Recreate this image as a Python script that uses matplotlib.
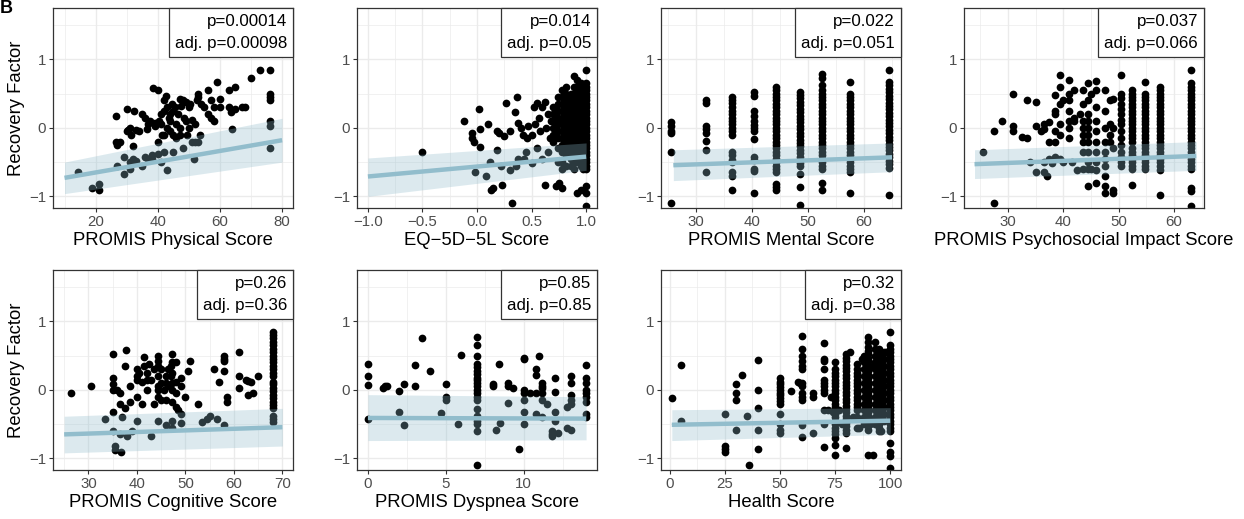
import numpy as np
import matplotlib
matplotlib.use("Agg")
from matplotlib import pyplot as plt

plt.rcParams['font.family'] = ['Liberation Sans', 'DejaVu Sans']

# ---- PROMIS Physical ----
phys_x = [14.5, 19, 21, 21, 26.5, 26.5, 27, 27, 28, 29, 29, 30, 30, 30.5, 31, 31, 31, 31.5, 32, 32,
          32.5, 33, 33, 34, 35, 35, 36, 36, 36.5, 37, 37, 37.5, 38, 38, 38.5, 39, 39, 40, 40, 40,
          40.5, 41, 41, 41, 41.5, 42, 42, 42, 42, 42.5, 43, 43, 43, 43.5, 44, 44, 44, 44.5, 45, 45,
          45, 45.5, 46, 46, 46.5, 47, 47, 47, 47.5, 48, 48, 48.5, 49, 49, 49.5, 50, 50, 50.5, 51, 51,
          51.5, 52, 52, 52.5, 53, 53, 53, 53.5, 54, 55, 56, 56, 57, 57, 58, 58, 59, 60, 60, 63,
          63, 63.5, 64, 65, 65, 67, 68, 70, 73, 76, 76, 76, 76, 76, 76, 76]
phys_y = [-0.64, -0.88, -0.82, -0.9, 0.17, -0.2, -0.25, -0.55, -0.2, -0.42, -0.68, 0.27, -0.05, -0.03, 0.0, -0.5, -0.6, -0.1, -0.27, -0.45,
          0.25, -0.03, -0.48, -0.05, 0.2, -0.55, 0.15, -0.42, -0.02, 0.05, -0.45, 0.1, -0.4, -0.45, 0.58, 0.07, 0.02, 0.55, -0.2, -0.38,
          0.1, 0.2, 0.05, -0.5, -0.1, 0.4, 0.25, -0.1, -0.35, 0.47, 0.0, 0.3, -0.62, 0.15, 0.2, 0.1, -0.05, 0.35, 0.25, -0.1,
          -0.35, 0.3, 0.05, -0.15, 0.2, 0.42, 0.0, -0.1, 0.32, 0.4, -0.3, 0.15, 0.38, 0.1, -0.1, 0.3, 0.0, 0.35, 0.12, -0.2,
          -0.45, 0.05, -0.2, 0.4, 0.5, 0.45, -0.2, -0.1, 0.35, 0.3, 0.55, 0.2, 0.15, 0.4, 0.1, 0.3, 0.67, 0.42, 0.3, 0.56,
          0.3, 0.23, -0.01, 0.6, 0.27, 0.3, 0.3, 0.73, 0.84, 0.84, 0.5, 0.45, 0.4, 0.1, 0.02, -0.29]
phys_band_x = [10, 80]
phys_fit = [-0.73, -0.18]
phys_lo = [-0.96, -0.50]
phys_hi = [-0.50, 0.14]

# ---- EQ-5D-5L ----
eq_x = [-0.5, -0.12, -0.05, -0.05, -0.03, -0.02, 0.02, 0.03, 0.03, 0.08, 0.1, 0.12, 0.13, 0.15, 0.18, 0.18,
        0.2, 0.22, 0.23, 0.25, 0.27, 0.3, 0.3, 0.32, 0.35, 0.36, 0.37, 0.38, 0.38, 0.4, 0.42, 0.43, 0.45,
        0.46, 0.47, 0.5, 0.5, 0.52, 0.53, 0.55, 0.55, 0.57, 0.58, 0.6, 0.6, 0.62, 0.62, 0.63, 0.65, 0.65,
        0.67, 0.68, 0.72, 0.75]
eq_y = [-0.35, 0.1, -0.08, -0.15, -0.2, -0.65, 0.27, -0.02, -0.28, -0.7, 0.05, -0.5, -0.9, -0.88, -0.05, -0.32,
        -0.08, -0.55, -0.83, -0.12, 0.37, -0.05, -0.62, -1.1, 0.23, -0.55, 0.45, 0.07, -0.45, 0.0, -0.1, -0.45, -0.35,
        -0.15, 0.03, -0.1, -0.52, 0.3, 0.05, 0.37, -0.3, 0.15, -0.05, 0.3, -0.45, 0.38, -0.83, 0.0, 0.2, -0.35,
        -0.15, 0.1, -0.85, -0.8]
eq_levels = [0.70, 0.74, 0.78, 0.82, 0.86, 0.89, 0.92, 0.95, 0.97, 1.0]
eq_values = [
    [0.3, 0.2, 0.1, 0.0, -0.1, -0.2],
    [0.45, 0.35, 0.25, 0.15, 0.05, -0.05, -0.15, -0.3, -0.5],
    [0.55, 0.45, 0.35, 0.25, 0.15, 0.05, -0.05, -0.15, -0.25, -0.35, -0.5, -0.6, -0.88],
    [0.6, 0.5, 0.4, 0.3, 0.2, 0.1, 0.0, -0.1, -0.2, -0.3, -0.4, -0.55],
    [0.5, 0.45, 0.35, 0.25, 0.15, 0.05, -0.05, -0.15, -0.25, -0.35, -0.45, -0.55],
    [0.75, 0.6, 0.5, 0.4, 0.3, 0.2, 0.1, 0.0, -0.1, -0.2, -0.3, -0.4, -0.5, -0.6],
    [0.7, 0.6, 0.5, 0.4, 0.3, 0.2, 0.1, 0.0, -0.1, -0.2, -0.3, -0.4, -0.5, -0.95],
    [0.65, 0.55, 0.45, 0.35, 0.25, 0.15, 0.05, -0.05, -0.15, -0.25, -0.35, -0.45, -0.55, -0.9],
    [0.6, 0.5, 0.4, 0.3, 0.2, 0.1, 0.0, -0.1, -0.2, -0.3, -0.4, -0.5, -0.6],
    [0.85, 0.65, 0.6, 0.55, 0.5, 0.45, 0.4, 0.35, 0.3, 0.25, 0.2, 0.15, 0.1, 0.05, 0.0, -0.05, -0.1,
     -0.15, -0.2, -0.25, -0.3, -0.35, -0.4, -0.45, -0.5, -0.55, -0.6, -0.85, -0.95, -1.14],
]
eq_band_x = [-1.0, 1.0]
eq_fit = [-0.71, -0.42]
eq_lo = [-1.0, -0.62]
eq_hi = [-0.44, -0.22]

# ---- PROMIS Mental ----
mental_levels = [25.6, 31.8, 36.4, 40.4, 44.3, 48.5, 52.6, 57.5, 64.5]
mental_values = [
    [0.08, 0.02, -0.04, -0.08, -0.35, -1.1],
    [0.4, 0.36, 0.03, -0.02, -0.07, -0.19, -0.33, -0.64],
    [0.45, 0.41, 0.36, 0.3, 0.24, 0.2, 0.14, 0.1, 0.05, 0.0, -0.05, -0.1, -0.35, -0.4, -0.47, -0.5,
     -0.65, -0.7, -0.91],
    [0.52, 0.47, 0.25, 0.17, 0.1, 0.04, 0.0, -0.04, -0.16, -0.42, -0.47, -0.6, -0.63, -0.95],
    [0.6, 0.55, 0.5, 0.45, 0.4, 0.35, 0.3, 0.25, 0.2, 0.15, 0.1, 0.05, 0.0, -0.05, -0.1, -0.15, -0.2,
     -0.25, -0.3, -0.35, -0.4, -0.45, -0.5, -0.55, -0.6, -0.65, -0.82, -0.86, -0.9],
    [0.53, 0.48, 0.43, 0.38, 0.33, 0.28, 0.23, 0.18, 0.13, 0.08, 0.03, -0.02, -0.07, -0.12, -0.17,
     -0.22, -0.27, -0.32, -0.37, -0.42, -0.47, -0.52, -0.56, -0.68, -0.87, -1.13],
    [0.78, 0.73, 0.62, 0.55, 0.5, 0.45, 0.4, 0.35, 0.3, 0.25, 0.2, 0.15, 0.1, 0.05, 0.0, -0.05, -0.1,
     -0.15, -0.2, -0.25, -0.3, -0.35, -0.4, -0.45, -0.5, -0.55, -0.6, -0.8, -0.9],
    [0.67, 0.5, 0.45, 0.4, 0.35, 0.3, 0.25, 0.2, 0.15, 0.1, 0.05, 0.0, -0.05, -0.1, -0.15, -0.2, -0.25,
     -0.3, -0.35, -0.4, -0.45, -0.5, -0.55, -0.6, -0.65, -0.95],
    [0.85, 0.67, 0.62, 0.57, 0.52, 0.47, 0.42, 0.37, 0.32, 0.27, 0.22, 0.17, 0.12, 0.07, 0.02, -0.03,
     -0.08, -0.13, -0.18, -0.23, -0.28, -0.33, -0.38, -0.43, -0.48, -0.53, -0.58, -0.98],
]
mental_band_x = [26, 65]
mental_fit = [-0.545, -0.43]
mental_lo = [-0.77, -0.64]
mental_hi = [-0.32, -0.22]

# ---- PROMIS Psychosocial Impact ----
psy_x = [25.5, 27.5, 27.5, 29, 31, 31, 31, 32.5, 33.5, 33.5, 34, 35, 35, 35, 36, 36.5, 36.5, 36.5, 36.5,
         37, 37.5, 37.5, 37.5, 38, 38.5, 38.5, 38.5, 38.5, 38.5, 38.5, 39.5, 39.5, 39.5, 39.5, 39.5, 39.5,
         40, 40, 41, 41, 41, 41, 41, 41, 41, 41.5, 42, 42, 42, 42.5, 43, 43.5, 43.5, 43.5, 43.5, 43.5, 43.5,
         43.5, 43.5, 44.5, 44.5, 44.5, 44.5, 44.5, 44.5, 44.5, 44.5, 44.5, 44.5, 44.5, 45, 45, 46, 46, 46,
         46, 46, 46, 46, 46, 46, 46, 47.5, 47.5, 47.5, 47.5, 47.5, 47.5, 47.5, 47.5, 47.5, 47.5, 48.5, 48.5,
         48.5, 48.5, 49, 49, 49, 49, 49]
psy_y = [-0.35, -0.05, -1.1, 0.1, 0.5, 0.03, -0.05, -0.13, 0.4, -0.15, -0.5, 0.38, 0.02, -0.65, -0.05, 0.05,
         -0.02, -0.5, -0.65, -0.7, 0.08, -0.2, -0.45, -0.52, 0.48, 0.25, 0.2, -0.05, -0.2, -0.42, 0.77, 0.6,
         0.35, 0.05, -0.1, -0.45, 0.4, -0.5, 0.7, 0.5, 0.4, 0.25, 0.1, 0.0, -0.15, -0.5, 0.55, 0.15, 0.1, -0.62,
         0.2, 0.55, 0.35, 0.1, 0.0, -0.1, -0.2, -0.35, -0.6, 0.65, 0.4, 0.2, 0.1, 0.0, -0.1, -0.2, -0.35, -0.5,
         -0.6, -0.85, 0.5, -0.6, 0.68, 0.55, 0.3, 0.1, -0.05, -0.2, -0.35, -0.5, -0.62, -0.8, 0.55, 0.25, 0.0,
         -0.2, -0.35, -0.45, -0.55, -0.7, -0.85, -0.95, 0.4, 0.05, -0.1, -0.2, 0.42, 0.0, -0.3, -0.9, -0.95]
psy_levels = [50.5, 52.5, 54.8, 57.5, 63.0]
psy_values = [
    [0.77, 0.5, 0.43, 0.35, 0.28, 0.2, 0.12, 0.05, -0.05, -0.15, -0.25, -0.35, -0.42, -0.5, -0.55],
    [0.55, 0.5, 0.45, 0.4, 0.35, 0.3, 0.25, 0.2, 0.15, 0.1, 0.05, 0.0, -0.05, -0.1, -0.15, -0.2, -0.3,
     -0.35, -0.4, -0.45, -0.5, -0.55, -0.6, -0.83],
    [0.67, 0.5, 0.45, 0.4, 0.35, 0.3, 0.25, 0.2, 0.15, 0.1, 0.05, 0.0, -0.05, -0.1, -0.15, -0.2, -0.25,
     -0.3, -0.35, -0.4, -0.45, -0.5, -0.55, -0.6],
    [0.6, 0.55, 0.5, 0.45, 0.4, 0.35, 0.3, 0.25, 0.2, 0.15, 0.1, 0.05, 0.0, -0.05, -0.1, -0.15, -0.2,
     -0.25, -0.3, -0.35, -0.4, -0.45, -0.5, -0.55, -0.62, -0.98],
    [0.85, 0.65, 0.6, 0.55, 0.5, 0.45, 0.4, 0.35, 0.3, 0.25, 0.2, 0.15, 0.1, 0.05, 0.0, -0.05, -0.1,
     -0.15, -0.2, -0.25, -0.3, -0.35, -0.4, -0.45, -0.5, -0.55, -0.6, -0.88, -0.92, -1.14],
]
psy_band_x = [24, 64]
psy_fit = [-0.53, -0.41]
psy_lo = [-0.74, -0.62]
psy_hi = [-0.32, -0.20]

# ---- PROMIS Cognitive ----
cog_x = [26.5, 30.5, 33.5, 35, 35, 35, 35, 35, 35, 35.5, 35.5, 36, 36.5, 36.5, 36.5, 36.8, 37, 37.5, 37.5,
         37.8, 38, 38.5, 38.5, 39, 40, 40, 40, 40, 40, 40.5, 41, 41, 41.5, 41.5, 42, 42, 42, 42.5, 43, 43,
         43.5, 43.5, 44.3, 44.3, 44.3, 44.3, 44.3, 44.3, 44.3, 44.3, 45, 45, 45, 45.5, 46, 46, 46, 46, 46.5,
         46.5, 47, 47, 47.3, 47.3, 47.3, 47.3, 47.3, 47.3, 47.3, 47.3, 48, 48, 48, 48, 48.5, 49, 49, 49, 49,
         50, 50.5, 51, 52.7, 53.5, 54.5, 55, 56, 56.5, 57, 58, 58, 58, 58, 58, 58.5, 58.5, 61, 61, 61, 62.5,
         63, 63, 63.5, 64, 65]
cog_y = [-0.05, 0.05, -0.42, 0.53, 0.17, 0.08, 0.0, -0.33, -0.6, -0.82, -0.88, 0.0, -0.05, -0.2, -0.65, -0.9,
         -0.4, 0.35, -0.27, 0.58, -0.68, 0.05, -0.18, -0.6, 0.3, 0.2, 0.15, -0.1, -0.45, 0.25, 0.12, -0.2, 0.48,
         0.35, 0.25, 0.15, 0.0, 0.38, 0.15, -0.68, 0.3, -0.2, 0.5, 0.42, 0.35, 0.2, 0.05, 0.0, -0.1, -0.45, 0.3,
         0.1, -0.15, 0.0, 0.2, 0.1, -0.15, -0.52, 0.3, 0.05, 0.35, 0.2, 0.53, 0.4, 0.25, 0.1, 0.0, -0.18, -0.45,
         -0.55, 0.4, 0.12, -0.05, -0.25, -0.3, 0.18, 0.05, -0.35, -0.48, -0.1, 0.27, 0.42, -0.2, -0.47, -0.42,
         -0.38, 0.3, -0.42, 0.12, 0.5, 0.45, 0.42, 0.28, -0.52, -0.1, -0.18, 0.56, 0.2, 0.03, 0.15, 0.13, -0.07,
         0.12, -0.05, 0.2]
cog_levels = [68.0]
cog_values = [
    [0.85, 0.8, 0.75, 0.7, 0.65, 0.6, 0.55, 0.5, 0.45, 0.4, 0.35, 0.3, 0.25, 0.2, 0.12, 0.08, 0.03, -0.02,
     -0.07, -0.12, -0.17, -0.22, -0.27, -0.38, -0.42, -0.47],
]
cog_band_x = [25, 70]
cog_fit = [-0.65, -0.545]
cog_lo = [-0.92, -0.82]
cog_hi = [-0.385, -0.27]

# ---- PROMIS Dyspnea ----
dys_x = [0, 0, 0, 0, 1, 1.1, 1.2, 2, 2, 2.3, 2.3, 3, 3, 3.5, 4, 4.7, 5, 5, 5, 5.8, 6,
         8, 8, 8.2, 8.4, 8.5, 9, 9, 9, 9.3, 9.7, 10, 10, 10, 10, 10, 10, 10, 10.4, 10.8, 10.8, 10.8,
         10.8, 11, 11.2, 11.2, 11.2, 11.2, 11.2, 11.2, 11.5, 12, 12, 12, 12, 11.8, 11.8, 11.8, 12.2,
         12.8, 12.8, 13, 13, 13, 13, 13, 13, 14, 14, 14, 14, 14, 14, 14, 14, 14]
dys_y = [0.38, 0.2, 0.07, -0.43, 0.03, 0.05, 0.06, -0.01, -0.33, 0.09, -0.52, 0.37, 0.05, 0.76, 0.27, -0.34,
         0.09, -0.1, -0.15, -0.5, 0.51, 0.08, 0.05, -0.58, 0.38, -0.48, 0.1, 0.06, -0.19, 0.02, -0.86, 0.47,
         0.45, 0.0, -0.05, -0.15, -0.33, -0.5, -0.05, 0.3, 0.22, -0.04, -0.35, 0.5, 0.1, 0.06, 0.02, -0.05,
         -0.15, -0.4, -0.2, 0.18, -0.03, -0.33, -0.45, -0.6, -0.65, -0.68, -0.63, -0.25, -0.55, 0.2, 0.1,
         -0.08, -0.15, -0.2, -0.58, 0.36, 0.17, 0.1, 0.0, -0.05, -0.1, -0.18, -0.35, -0.4]
dys_levels = [7.0]
dys_values = [
    [0.77, 0.65, 0.5, 0.38, 0.33, 0.28, 0.23, 0.18, 0.14, 0.1, 0.05, 0.0, -0.05, -0.1, -0.15, -0.28,
     -0.38, -0.45, -0.5, -0.6, -1.1],
]
dys_band_x = [0, 14]
dys_fit = [-0.41, -0.42]
dys_lo = [-0.74, -0.73]
dys_hi = [-0.07, -0.10]

# ---- Health Score ----
health_x = [1, 5, 5, 25, 25, 25, 25, 30, 30, 30, 30, 33, 35, 36, 40, 40, 40, 40, 40, 55, 58, 59, 65, 65,
            65, 72, 73, 74, 77, 78, 82, 83, 86, 87, 91, 92, 92, 96, 98]
health_y = [-0.12, 0.36, -0.45, -0.35, -0.82, -0.87, -0.9, 0.08, -0.05, -0.15, -0.58, 0.21, -0.38, -1.09,
            0.44, 0.0, -0.27, -0.58, -0.87, -0.01, 0.12, 0.1, -0.05, -0.1, -0.63, -0.3, -0.1, -0.33, -0.3,
            -0.5, 0.55, -0.4, -0.55, 0.45, -0.5, 0.35, -0.95, -0.6, 0.55]
health_levels = [50, 60, 70, 75, 80, 85, 88, 90, 93, 95, 97, 100]
health_values = [
    [0.17, 0.12, 0.08, 0.04, 0.0, -0.04, -0.08, -0.12, -0.16, -0.2, -0.35, -0.5, -0.58, -0.63],
    [0.78, 0.6, 0.5, 0.42, 0.35, 0.3, 0.1, 0.05, -0.05, -0.1, -0.15, -0.52, -0.69],
    [0.68, 0.45, 0.42, 0.3, 0.15, 0.1, 0.05, 0.0, -0.05, -0.3, -0.5, -0.83],
    [0.4, 0.3, 0.25, 0.2, 0.15, 0.1, 0.05, 0.0, -0.05, -0.1, -0.15, -0.2, -0.25, -0.3, -0.35, -0.4,
     -0.45, -0.5, -0.55, -0.6, -0.65, -0.7, -0.8, -0.95],
    [0.52, 0.47, 0.42, 0.37, 0.32, 0.27, 0.22, 0.17, 0.12, 0.07, 0.02, -0.03, -0.08, -0.13, -0.18,
     -0.23, -0.28, -0.33, -0.38, -0.43, -0.48, -0.53, -0.58, -0.63, -0.85],
    [0.38, 0.3, 0.25, 0.2, 0.15, 0.1, 0.05, 0.0, -0.05, -0.1, -0.15, -0.2, -0.25, -0.3, -0.4, -0.55],
    [0.5, 0.45, 0.4, 0.3, 0.2, 0.1, 0.0, -0.1, -0.2, -0.3, -0.4, -0.5],
    [0.77, 0.7, 0.62, 0.57, 0.52, 0.47, 0.42, 0.37, 0.32, 0.27, 0.22, 0.17, 0.12, 0.07, 0.02, -0.03,
     -0.08, -0.13, -0.18, -0.23, -0.28, -0.33, -0.38, -0.43, -0.48, -0.53, -0.58, -0.95],
    [0.7, 0.6, 0.5, 0.4, 0.3, 0.2, 0.1, 0.0, -0.1, -0.2, -0.3, -0.4, -0.5],
    [0.6, 0.55, 0.5, 0.45, 0.4, 0.35, 0.3, 0.25, 0.2, 0.15, 0.1, 0.05, 0.0, -0.05, -0.1, -0.15, -0.2,
     -0.25, -0.3, -0.35, -0.4, -0.45, -0.5, -0.55, -0.6],
    [0.55, 0.45, 0.35, 0.25, 0.15, 0.05, -0.05, -0.15, -0.25, -0.35, -0.45],
    [0.85, 0.65, 0.6, 0.55, 0.5, 0.45, 0.4, 0.35, 0.3, 0.25, 0.2, 0.15, 0.1, 0.05, 0.0, -0.05, -0.1,
     -0.15, -0.2, -0.25, -0.3, -0.35, -0.4, -0.45, -0.5, -0.55, -0.6, -0.78, -0.9, -0.97, -1.14],
]
health_band_x = [1, 100]
health_fit = [-0.51, -0.45]
health_lo = [-0.74, -0.65]
health_hi = [-0.29, -0.26]

labels = ["PROMIS Physical Score", "EQ\u22125D\u22125L Score", "PROMIS Mental Score",
          "PROMIS Psychosocial Impact Score", "PROMIS Cognitive Score", "PROMIS Dyspnea Score",
          "Health Score"]
p_vals = ["0.00014", "0.014", "0.022", "0.037", "0.26", "0.85", "0.32"]
adj_p_vals = ["0.00098", "0.05", "0.051", "0.066", "0.36", "0.85", "0.38"]


def expand(xs, ys, levels=None, values=None):
    xs = list(xs)
    ys = list(ys)
    if levels is not None:
        for lv, vals in zip(levels, values):
            xs += [lv] * len(vals)
            ys += list(vals)
    return np.array(xs), np.array(ys)


panels = [
    (expand(phys_x, phys_y), phys_band_x, phys_fit, phys_lo, phys_hi,
     (6.3, 83.5), [20, 40, 60, 80], [10, 30, 50, 70], [20, 40, 60, 80]),
    (expand(eq_x, eq_y, eq_levels, eq_values), eq_band_x, eq_fit, eq_lo, eq_hi,
     (-1.1, 1.1), [-1.0, -0.5, 0.0, 0.5, 1.0], [-0.75, -0.25, 0.25, 0.75],
     ["\u22121.0", "\u22120.5", "0.0", "0.5", "1.0"]),
    (expand([], [], mental_levels, mental_values), mental_band_x, mental_fit, mental_lo, mental_hi,
     (23.8, 66.6), [30, 40, 50, 60], [25, 35, 45, 55, 65], [30, 40, 50, 60]),
    (expand(psy_x, psy_y, psy_levels, psy_values), psy_band_x, psy_fit, psy_lo, psy_hi,
     (22.1, 65.4), [30, 40, 50, 60], [25, 35, 45, 55, 65], [30, 40, 50, 60]),
    (expand(cog_x, cog_y, cog_levels, cog_values), cog_band_x, cog_fit, cog_lo, cog_hi,
     (22.7, 72.2), [30, 40, 50, 60, 70], [25, 35, 45, 55, 65], [30, 40, 50, 60, 70]),
    (expand(dys_x, dys_y, dys_levels, dys_values), dys_band_x, dys_fit, dys_lo, dys_hi,
     (-0.7, 14.7), [0, 5, 10], [2.5, 7.5, 12.5], [0, 5, 10]),
    (expand(health_x, health_y, health_levels, health_values), health_band_x, health_fit, health_lo,
     health_hi, (-3.9, 104.9), [0, 25, 50, 75, 100], [12.5, 37.5, 62.5, 87.5], [0, 25, 50, 75, 100]),
]

W, H = 1244, 519
fig = plt.figure(figsize=(W / 100, H / 100), dpi=100)

lefts = [53, 357, 661, 964]
tops = [8, 270]
pw, ph = 240, 200

grid_c = '#ebebeb'
dark = '#333333'
band_c = '#8ebbcb'
line_c = '#92bdcc'

for i, (pts, bx, fit, lo, hi, xlim, major, minor, ticklab) in enumerate(panels):
    r, c = divmod(i, 4)
    ax = fig.add_axes([lefts[c] / W, 1 - (tops[r] + ph) / H, pw / W, ph / H])
    x, y = pts
    ax.set_xlim(*xlim)
    ax.set_ylim(-1.17, 1.75)
    ax.set_xticks(major)
    ax.set_xticklabels(ticklab)
    ax.set_xticks(minor, minor=True)
    ax.set_yticks([-1, 0, 1])
    ax.set_yticklabels(["\u22121", "0", "1"])
    ax.set_yticks([-0.5, 0.5, 1.5], minor=True)
    ax.grid(which='major', color=grid_c, lw=1.0, zorder=0)
    ax.grid(which='minor', color=grid_c, lw=0.5, zorder=0)
    ax.set_axisbelow(True)
    ax.tick_params(which='major', length=3, width=0.8, color=dark, labelcolor='#4d4d4d',
                   labelsize=10.8, pad=2)
    ax.tick_params(which='minor', length=0)
    for s in ax.spines.values():
        s.set_color(dark)
        s.set_linewidth(0.9)

    ax.scatter(x, y, s=31, color='black', linewidths=0, zorder=2)
    ax.fill_between(bx, lo, hi, color=band_c, alpha=0.31, linewidth=0, zorder=3)
    ax.plot(bx, fit, color=line_c, lw=3.2, zorder=4, solid_capstyle='butt')

    ax.set_xlabel(labels[i], fontsize=13.3, labelpad=2)
    if c == 0:
        ax.set_ylabel("Recovery Factor", fontsize=13.3, labelpad=3)

    txt = "p=" + p_vals[i] + "\nadj. p=" + adj_p_vals[i]
    ax.annotate(txt, xy=(1, 1), xycoords='axes fraction', xytext=(-4.3, -4.3),
                textcoords='offset points', ha='right', va='top', fontsize=12.2,
                multialignment='right', linespacing=1.6, zorder=6,
                bbox=dict(boxstyle='square,pad=0.35', fc='white', ec=dark, lw=0.9))

fig.text(0.0, 1.0, "B", fontsize=13, fontweight='bold', ha='left', va='top')

fig.savefig('out.png', dpi=100)
